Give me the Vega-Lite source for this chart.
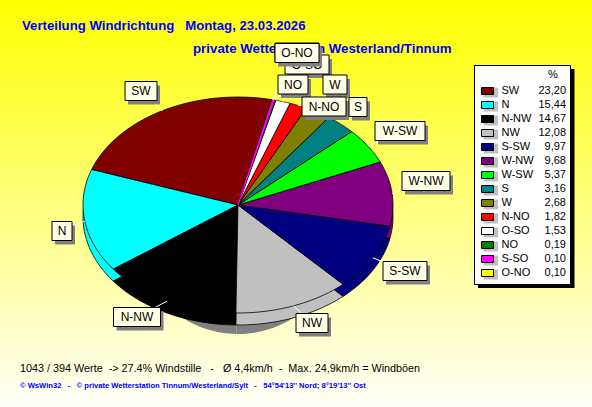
{"$schema":"https://vega.github.io/schema/vega-lite/v6.json","autosize":{"type":"fit","contains":"padding"},"width":592,"height":407,"padding":0,"view":{"stroke":null,"fill":{"gradient":"linear","x1":0,"y1":0,"x2":0,"y2":1,"stops":[{"offset":0,"color":"#FFFF00"},{"offset":1,"color":"#FFFFF8"}]}},"data":{"values":[{"dir":"SW","pct":23.20,"txt":"23,20"},{"dir":"N","pct":15.44,"txt":"15,44"},{"dir":"N-NW","pct":14.67,"txt":"14,67"},{"dir":"NW","pct":12.08,"txt":"12,08"},{"dir":"S-SW","pct":9.97,"txt":"9,97"},{"dir":"W-NW","pct":9.68,"txt":"9,68"},{"dir":"W-SW","pct":5.37,"txt":"5,37"},{"dir":"S","pct":3.16,"txt":"3,16"},{"dir":"W","pct":2.68,"txt":"2,68"},{"dir":"N-NO","pct":1.82,"txt":"1,82"},{"dir":"O-SO","pct":1.53,"txt":"1,53"},{"dir":"NO","pct":0.19,"txt":"0,19"},{"dir":"S-SO","pct":0.10,"txt":"0,10"},{"dir":"O-NO","pct":0.10,"txt":"0,10"}]},"transform":[{"window":[{"op":"row_number","as":"i"}]},{"window":[{"op":"sum","field":"pct","as":"cum"}],"sort":[{"field":"i","order":"descending"}],"ignorePeers":true},{"joinaggregate":[{"op":"sum","field":"pct","as":"tot"}]},{"calculate":"0.2217+2*PI*(datum.cum-datum.pct)/datum.tot","as":"t0"},{"calculate":"0.2217+2*PI*datum.cum/datum.tot","as":"t1"},{"calculate":"(datum.t0+datum.t1)/2","as":"tm"},{"calculate":"91+14*(datum.i-1)","as":"ly"}],"encoding":{"x":{"type":"quantitative","scale":{"domain":[0,592],"nice":false,"zero":false},"axis":null},"y":{"type":"quantitative","scale":{"domain":[0,407],"reverse":true,"nice":false,"zero":false},"axis":null}},"layer":[{"data":{"values":[{}]},"transform":[],"mark":{"type":"text","font":"Liberation Sans","fontSize":13.2,"fontWeight":"bold","color":"#0000FF","align":"left","baseline":"middle"},"encoding":{"x":{"datum":22},"y":{"datum":26},"text":{"value":"Verteilung Windrichtung\u00A0\u00A0\u00A0Montag, 23.03.2026"}}},{"data":{"values":[{}]},"transform":[],"mark":{"type":"text","font":"Liberation Sans","fontSize":13.3,"fontWeight":"bold","color":"#0000FF","align":"left","baseline":"middle"},"encoding":{"x":{"datum":193},"y":{"datum":49},"text":{"value":"private Wetterstation Westerland/Tinnum"}}},{"transform":[{"calculate":"[-1,0,0.04,0.08,0.12,0.16,0.2,0.24,0.28,0.32,0.36,0.4,0.44,0.48,0.52,0.56,0.6,0.64,0.68,0.72,0.76,0.8,0.84,0.88,0.92,0.96,1,2]","as":"k"},{"flatten":["k"]},{"calculate":"datum.t0+(datum.t1-datum.t0)*datum.k","as":"a"},{"calculate":"datum.k<0||datum.k>1?0:sin(datum.a)","as":"ux"},{"calculate":"datum.k<0||datum.k>1?0:-cos(datum.a)","as":"uy"},{"calculate":"238+155*datum.ux","as":"px"},{"calculate":"205+108*datum.uy","as":"py"},{"calculate":"datum.py+12","as":"ry"},{"calculate":"238+105*datum.ux","as":"sx"},{"calculate":"226+108*datum.uy","as":"sy"}],"layer":[{"mark":{"type":"line","fill":"#808080","stroke":null,"strokeWidth":0},"encoding":{"x":{"field":"sx","type":"quantitative"},"y":{"field":"sy","type":"quantitative"},"detail":{"field":"dir"},"order":{"field":"k"}}},{"mark":{"type":"line","stroke":"#000000","strokeWidth":0.8},"encoding":{"x":{"field":"px","type":"quantitative"},"y":{"field":"ry","type":"quantitative"},"fill":{"field":"dir","type":"nominal","legend":null,"sort":null,"scale":{"domain":["SW","N","N-NW","NW","S-SW","W-NW","W-SW","S","W","N-NO","O-SO","NO","S-SO","O-NO"],"range":["#800000","#00FFFF","#000000","#C0C0C0","#000080","#800080","#00FF00","#008080","#808000","#FF0000","#FFFFFF","#008000","#FF00FF","#FFFF00"]}},"order":{"field":"k"}}},{"mark":{"type":"line","stroke":"#000000","strokeWidth":0.8},"encoding":{"x":{"field":"px","type":"quantitative"},"y":{"field":"py","type":"quantitative"},"fill":{"field":"dir","type":"nominal","legend":null},"order":{"field":"k"}}},{"transform":[{"filter":"datum.dir=='S-SO'"}],"mark":{"type":"line","stroke":"#FF00FF","strokeWidth":1.2},"encoding":{"x":{"field":"px","type":"quantitative"},"y":{"field":"py","type":"quantitative"},"order":{"field":"k"}}}]},{"transform":[{"calculate":"{'SW':141,'N':62,'N-NW':137,'NW':312,'S-SW':405,'W-NW':426,'W-SW':400,'S':358,'W':335,'N-NO':324,'O-SO':307,'NO':293,'S-SO':297,'O-NO':297}[datum.dir]","as":"lx"},{"calculate":"{'SW':91,'N':231,'N-NW':317,'NW':323,'S-SW':271,'W-NW':181,'W-SW':131,'S':107,'W':84.5,'N-NO':106.5,'O-SO':64.5,'NO':84.5,'S-SO':52.5,'O-NO':53}[datum.dir]","as":"lyy"},{"calculate":"{'SW':32,'N':20,'N-NW':47,'NW':32,'S-SW':44,'W-NW':48,'W-SW':50,'S':18,'W':24,'N-NO':44,'O-SO':44,'NO':30,'S-SO':44,'O-NO':44}[datum.dir]/2","as":"hw"},{"calculate":"datum.lx-datum.hw","as":"x1"},{"calculate":"datum.lx+datum.hw","as":"x2"},{"calculate":"datum.lyy-9.5","as":"y1"},{"calculate":"datum.lyy+9.5","as":"y2"},{"calculate":"datum.x1+3","as":"x1s"},{"calculate":"datum.x2+3","as":"x2s"},{"calculate":"datum.y1+4","as":"y1s"},{"calculate":"datum.y2+4","as":"y2s"},{"calculate":"238+155*sin(datum.tm)","as":"ex"},{"calculate":"205-108*cos(datum.tm)","as":"ey"},{"calculate":"datum.dir=='O-SO'||datum.dir=='S-SO'?0:1","as":"front"}],"layer":[{"mark":{"type":"rule","color":"#FFFFFF","strokeWidth":1},"encoding":{"x":{"field":"lx","type":"quantitative"},"y":{"field":"lyy","type":"quantitative"},"x2":{"field":"ex"},"y2":{"field":"ey"}}},{"transform":[{"filter":"datum.front==0"}],"layer":[{"mark":{"type":"rect","fill":"#808080"},"encoding":{"x":{"field":"x1s","type":"quantitative"},"x2":{"field":"x2s"},"y":{"field":"y1s","type":"quantitative"},"y2":{"field":"y2s"}}},{"mark":{"type":"rect","fill":"#FFFFE6","stroke":"#000000","strokeWidth":1},"encoding":{"x":{"field":"x1","type":"quantitative"},"x2":{"field":"x2"},"y":{"field":"y1","type":"quantitative"},"y2":{"field":"y2"}}},{"transform":[{"filter":"datum.dir!='S-SO'"}],"mark":{"type":"text","font":"Liberation Sans","fontSize":12,"color":"#000000","baseline":"middle"},"encoding":{"x":{"field":"lx","type":"quantitative"},"y":{"field":"lyy","type":"quantitative"},"text":{"field":"dir"}}}]},{"transform":[{"filter":"datum.front==1"}],"layer":[{"mark":{"type":"rect","fill":"#808080"},"encoding":{"x":{"field":"x1s","type":"quantitative"},"x2":{"field":"x2s"},"y":{"field":"y1s","type":"quantitative"},"y2":{"field":"y2s"}}},{"mark":{"type":"rect","fill":"#FFFFE6","stroke":"#000000","strokeWidth":1},"encoding":{"x":{"field":"x1","type":"quantitative"},"x2":{"field":"x2"},"y":{"field":"y1","type":"quantitative"},"y2":{"field":"y2"}}},{"mark":{"type":"text","font":"Liberation Sans","fontSize":12,"color":"#000000","baseline":"middle"},"encoding":{"x":{"field":"lx","type":"quantitative"},"y":{"field":"lyy","type":"quantitative"},"text":{"field":"dir"}}}]}]},{"data":{"values":[{}]},"transform":[],"mark":{"type":"rect","fill":"#000000"},"encoding":{"x":{"datum":478},"x2":{"datum":574.5},"y":{"datum":69},"y2":{"datum":288}}},{"data":{"values":[{}]},"transform":[],"mark":{"type":"rect","fill":"#FFFFFF","stroke":"#000000","strokeWidth":1},"encoding":{"x":{"datum":474.5},"x2":{"datum":570.5},"y":{"datum":65.5},"y2":{"datum":284.5}}},{"data":{"values":[{}]},"transform":[],"mark":{"type":"text","font":"Liberation Sans","fontSize":11,"color":"#000000","baseline":"middle"},"encoding":{"x":{"datum":553},"y":{"datum":75},"text":{"value":"%"}}},{"transform":[{"calculate":"datum.ly-3.5","as":"y1"},{"calculate":"datum.ly+3.5","as":"y2"},{"calculate":"datum.ly+6.5","as":"y2s"}],"layer":[{"mark":{"type":"rect","fill":"#C0C0C0"},"encoding":{"x":{"datum":483.5},"x2":{"datum":498},"y":{"field":"y1","type":"quantitative"},"y2":{"field":"y2s"}}},{"mark":{"type":"rect","stroke":"#000000","strokeWidth":1},"encoding":{"x":{"datum":481.5},"x2":{"datum":493.5},"y":{"field":"y1","type":"quantitative"},"y2":{"field":"y2"},"fill":{"field":"dir","type":"nominal","legend":null}}},{"mark":{"type":"text","font":"Liberation Sans","fontSize":11,"color":"#000000","baseline":"middle","align":"left"},"encoding":{"x":{"datum":501.5},"y":{"field":"ly","type":"quantitative"},"text":{"field":"dir"}}},{"mark":{"type":"text","font":"Liberation Sans","fontSize":11,"color":"#000000","baseline":"middle","align":"right"},"encoding":{"x":{"datum":566},"y":{"field":"ly","type":"quantitative"},"text":{"field":"txt"}}}]},{"data":{"values":[{}]},"transform":[],"mark":{"type":"text","font":"Liberation Sans","fontSize":10.8,"color":"#000000","align":"left","baseline":"middle"},"encoding":{"x":{"datum":20},"y":{"datum":369},"text":{"value":"1043 / 394 Werte\u00A0\u00A0-> 27.4% Windstille\u00A0\u00A0\u00A0-\u00A0\u00A0\u00A0Ø 4,4km/h\u00A0\u00A0-\u00A0\u00A0Max. 24,9km/h = Windböen"}}},{"data":{"values":[{}]},"transform":[],"mark":{"type":"text","font":"Liberation Sans","fontSize":7.6,"fontWeight":"bold","color":"#0000FF","align":"left","baseline":"middle"},"encoding":{"x":{"datum":20},"y":{"datum":386},"text":{"value":"© WsWin32\u00A0\u00A0\u00A0-\u00A0\u00A0\u00A0© private Wetterstation Tinnum/Westerland/Sylt\u00A0\u00A0\u00A0-\u00A0\u00A0\u00A054°54'13'' Nord; 8°19'13'' Ost"}}}]}
